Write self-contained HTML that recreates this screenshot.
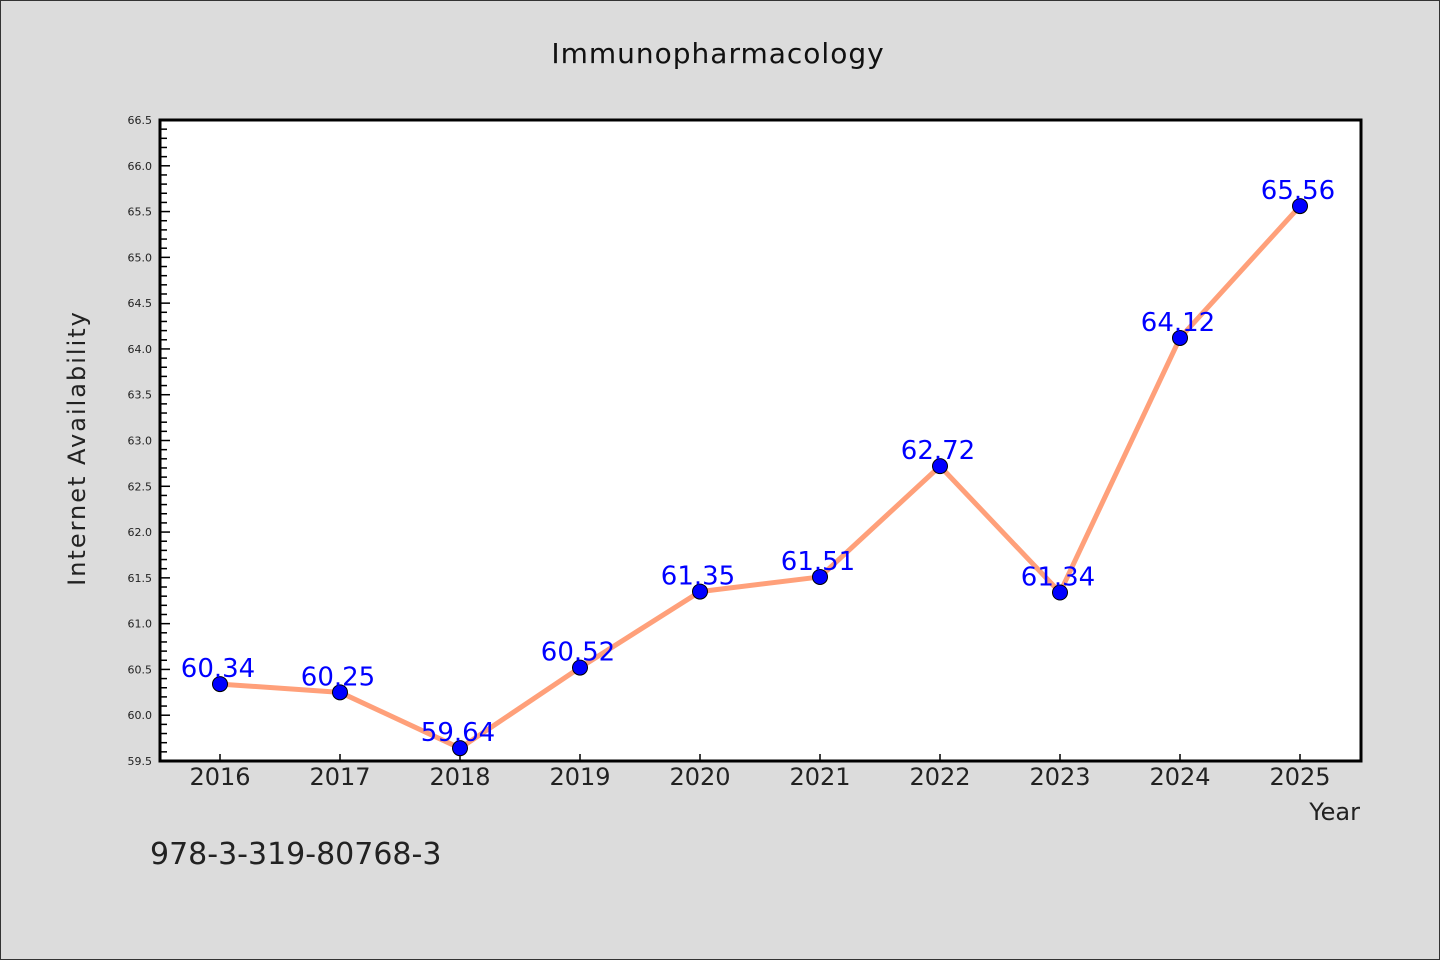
<!DOCTYPE html>
<html><head><meta charset="utf-8"><style>
html,body{margin:0;padding:0;background:#dcdcdc;}
svg{display:block;}
text{font-family:"WenQuanYi Zen Hei","DejaVu Sans",sans-serif;}
</style></head><body>
<svg id="chart" width="1440" height="960" xmlns="http://www.w3.org/2000/svg">
<rect x="0.5" y="0.5" width="1439" height="959" fill="#dcdcdc" stroke="#333"/>
<text x="718" y="63" font-size="28" text-anchor="middle" fill="#111" letter-spacing="1">Immunopharmacology</text>
<rect x="160" y="120" width="1201" height="641" fill="#fff" stroke="#000" stroke-width="3"/>
<g id="yaxis"></g>
<g id="xaxis"></g>
<g id="series"></g>
<text transform="translate(85,448) rotate(-90)" font-size="24" text-anchor="middle" fill="#222" letter-spacing="2">Internet Availability</text>
<text x="1360" y="820" font-size="24" text-anchor="end" fill="#222">Year</text>
<text x="150" y="864" font-size="30" fill="#222">978-3-319-80768-3</text>
</svg>
<script>
const categories = ["2016","2017","2018","2019","2020","2021","2022","2023","2024","2025"];
const values = [60.34,60.25,59.64,60.52,61.35,61.51,62.72,61.34,64.12,65.56];
const labels = ["60.34","60.25","59.64","60.52","61.35","61.51","62.72","61.34","64.12","65.56"];
const yTicks = ["59.5","60.0","60.5","61.0","61.5","62.0","62.5","63.0","63.5","64.0","64.5","65.0","65.5","66.0","66.5"];
{
const NS="http://www.w3.org/2000/svg";
const yMin=59.5,yMax=66.5,plotTop=120,plotBot=761,plotLeft=160;
function yScale(v){return plotBot-(v-yMin)/(yMax-yMin)*(plotBot-plotTop);}
function xScale(i){return 220+i*120;}
function mk(t,a,p){const e=document.createElementNS(NS,t);for(const k in a)e.setAttribute(k,a[k]);p.appendChild(e);return e;}
const ya=document.getElementById('yaxis');
for(let k=0;k<=70;k++){const v=yMin+k*0.1;const major=k%5===0;
 const l=mk('line',{x1:plotLeft,x2:plotLeft+(major?10:7),y1:yScale(v),y2:yScale(v),stroke:'#000','stroke-width':1.5},ya);
 
 }
yTicks.forEach(s=>{const t=mk('text',{x:152,y:yScale(+s)+4,'font-size':11,'text-anchor':'end',fill:'#222'},ya);t.textContent=s;
 
 });
const xa=document.getElementById('xaxis');
categories.forEach((c,i)=>{const l=mk('line',{x1:xScale(i),x2:xScale(i),y1:plotBot,y2:plotBot-7,stroke:'#000','stroke-width':1.5},xa);
 
 
 const t=mk('text',{x:xScale(i),y:785,'font-size':24,'text-anchor':'middle',fill:'#222'},xa);t.textContent=c;
 
 });
const s=document.getElementById('series');
const pl=mk('polyline',{points:values.map((v,i)=>xScale(i)+','+yScale(v)).join(' '),fill:'none',stroke:'#ffa07a','stroke-width':5,'stroke-linejoin':'round'},s);


values.forEach((v,i)=>{const c=mk('circle',{cx:xScale(i),cy:yScale(v),r:7.5,fill:'#0000ff',stroke:'#000','stroke-width':1},s);
 
 });
values.forEach((v,i)=>{const t=mk('text',{x:xScale(i)-2,y:yScale(v)-7,'font-size':26,'text-anchor':'middle',fill:'#0000ff'},s);t.textContent=labels[i];
 
 });
}
</script>
</body></html>
